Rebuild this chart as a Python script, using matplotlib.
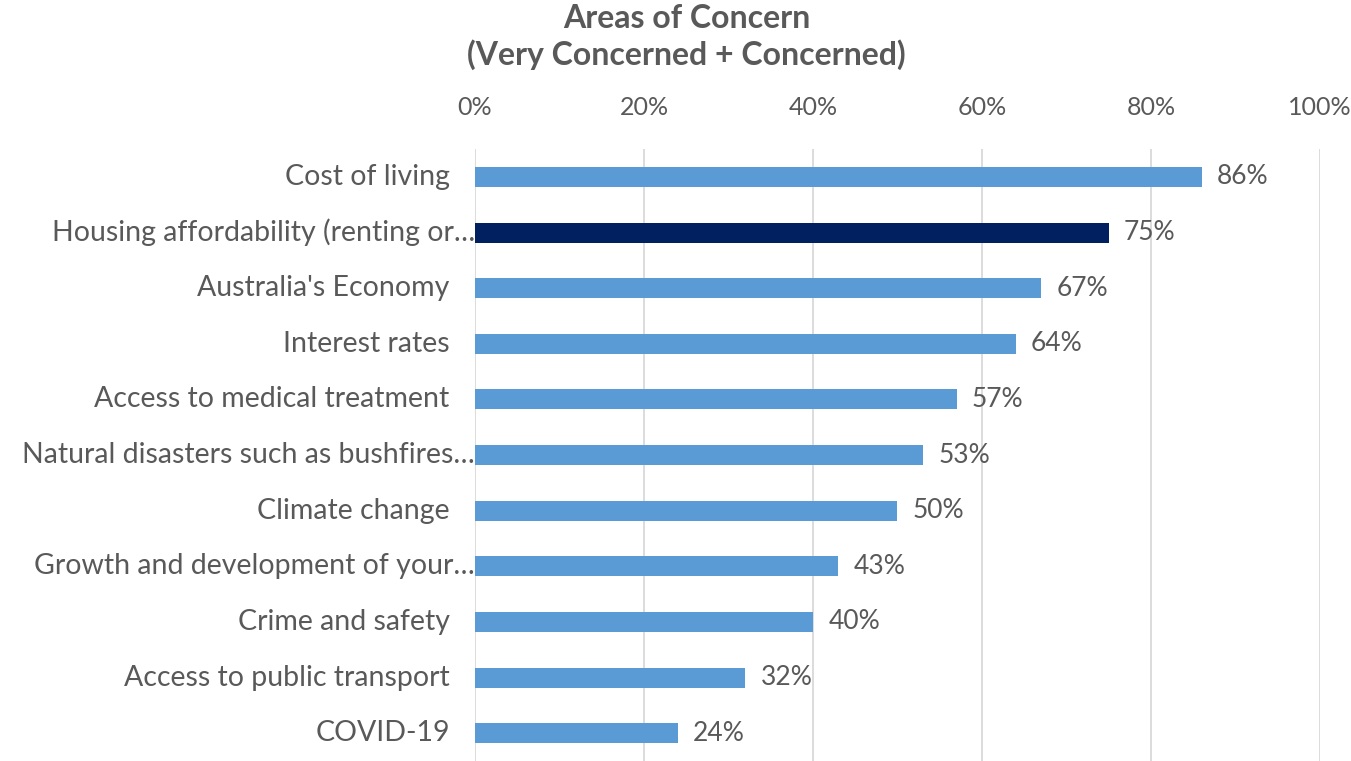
import matplotlib.pyplot as plt
from matplotlib.ticker import FuncFormatter

categories = [
    "Cost of living",
    "Housing affordability (renting or\u2026",
    "Australia's Economy",
    "Interest rates",
    "Access to medical treatment",
    "Natural disasters such as bushfires\u2026",
    "Climate change",
    "Growth and development of your\u2026",
    "Crime and safety",
    "Access to public transport",
    "COVID-19",
]
values = [86, 75, 67, 64, 57, 53, 50, 43, 40, 32, 24]
highlight = "Housing affordability (renting or\u2026"

light_blue = "#5B9BD5"
navy = "#002060"
grey_text = "#595959"

plt.rcParams['font.family'] = ['Lato', 'DejaVu Sans']

fig = plt.figure(figsize=(13.51, 7.61), dpi=100)
ax = fig.add_axes([0.3516, 0.0, 0.6254, 0.804])

ypos = list(range(len(categories)))
colors = [navy if c == highlight else light_blue for c in categories]
ax.barh(ypos, values, height=0.36, color=colors, zorder=3)

ax.set_xlim(0, 100)
ax.set_ylim(len(categories) - 0.5, -0.5)
ax.set_xticks([0, 20, 40, 60, 80, 100])
ax.xaxis.set_major_formatter(FuncFormatter(lambda v, p: f"{v:.0f}%"))
ax.xaxis.tick_top()
ax.tick_params(axis='x', length=0, pad=22, labelsize=18, labelcolor=grey_text)
ax.set_yticks([])
ax.grid(axis='x', color='#D9D9D9', linewidth=1.3, zorder=0)
for s in ax.spines.values():
    s.set_visible(False)

# category labels (truncated ones sit right against the axis)
ytrans = ax.get_yaxis_transform()
for y, c in zip(ypos, categories):
    off = 0.0 if c.endswith("\u2026") else -0.03
    ax.text(off, y, c, transform=ytrans, ha='right', va='center',
            fontsize=20.5, color=grey_text)

for y, v in zip(ypos, values):
    ax.annotate(f"{v}%", (v, y), xytext=(11, 0), textcoords='offset points',
                ha='left', va='center', fontsize=19, color=grey_text)

fig.text(0.508, 0.995, "Areas of Concern\n(Very Concerned + Concerned)",
         ha='center', va='top', fontsize=23, fontweight='bold',
         color=grey_text, linespacing=1.25)

fig.savefig("out.png", dpi=100)
